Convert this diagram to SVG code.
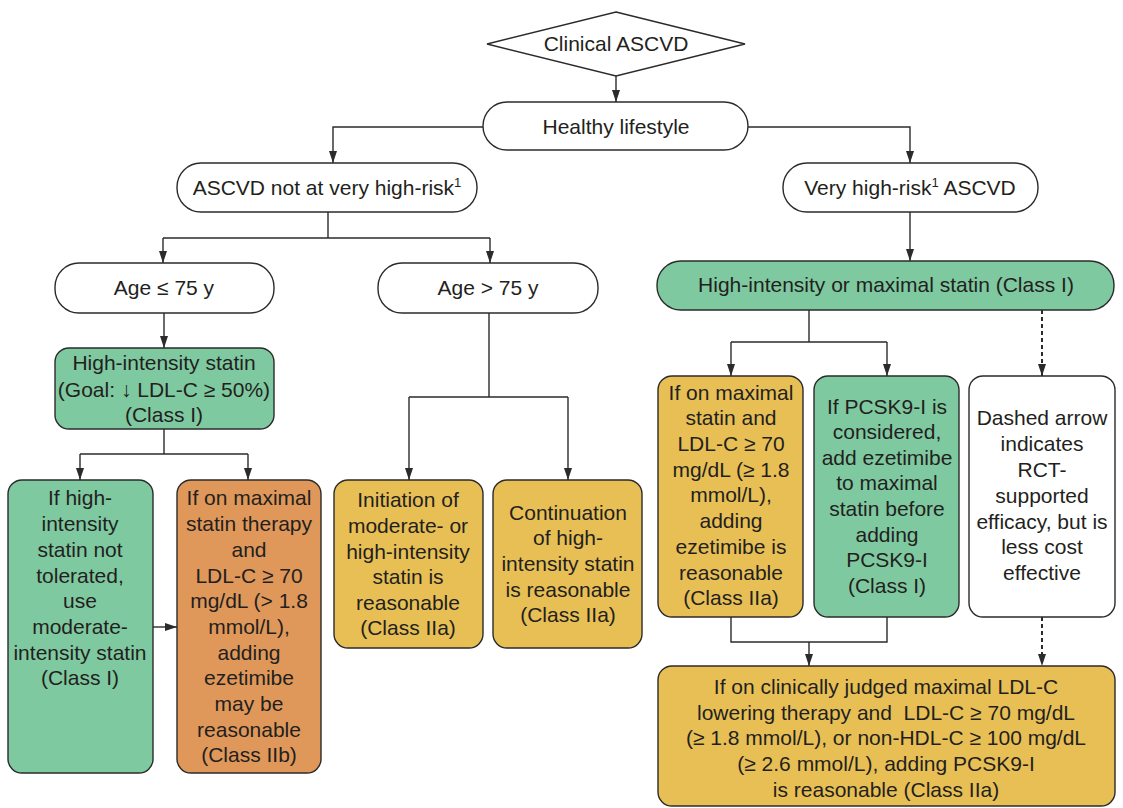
<svg xmlns="http://www.w3.org/2000/svg" width="1123" height="808" viewBox="0 0 1123 808">
<style>
text{font-family:"Liberation Sans",Arial,sans-serif;font-size:21px;fill:#231f20;text-anchor:middle}
.b{stroke:#2b2b2b;stroke-width:1.4}
.w{fill:#fff}.g{fill:#7fc9a0}.o{fill:#e0985a}.y{fill:#e8bf54}
.c{fill:none;stroke:#2b2b2b;stroke-width:1.4}
.d{stroke-dasharray:4 3;stroke-width:2}
.sup{font-size:13px}
</style>
<defs>
<marker id="ah" viewBox="0 0 12 8" refX="12" refY="4" markerWidth="12" markerHeight="8" markerUnits="userSpaceOnUse" orient="auto">
<path d="M0,0 L12,4 L0,8 z" fill="#2b2b2b"/>
</marker>
</defs>
<rect width="1123" height="808" fill="#fff"/>
<g id="connectors">
<path class="c" d="M616,76 V102" marker-end="url(#ah)"/>
<path class="c" d="M483,127 H333 V163" marker-end="url(#ah)"/>
<path class="c" d="M748,127 H910 V163" marker-end="url(#ah)"/>
<path class="c" d="M328,212 V238 M163,238 H490"/>
<path class="c" d="M163,238 V263" marker-end="url(#ah)"/>
<path class="c" d="M490,238 V263" marker-end="url(#ah)"/>
<path class="c" d="M910,212 V261" marker-end="url(#ah)"/>
<path class="c" d="M164,313 V348" marker-end="url(#ah)"/>
<path class="c" d="M164,429 V454 M80,454 H248"/>
<path class="c" d="M80,454 V480" marker-end="url(#ah)"/>
<path class="c" d="M248,454 V480" marker-end="url(#ah)"/>
<path class="c" d="M153,627 H177" marker-end="url(#ah)"/>
<path class="c" d="M489,313 V397 M409,397 H568"/>
<path class="c" d="M409,397 V480" marker-end="url(#ah)"/>
<path class="c" d="M568,397 V480" marker-end="url(#ah)"/>
<path class="c" d="M809,310 V342 M731,342 H887"/>
<path class="c" d="M731,342 V376" marker-end="url(#ah)"/>
<path class="c" d="M887,342 V376" marker-end="url(#ah)"/>
<path class="c d" d="M1042,310 V376" marker-end="url(#ah)"/>
<path class="c" d="M731,617 V642 H887 V617 M809,642 V666" marker-end="url(#ah)"/>
<path class="c d" d="M1042,617 V666" marker-end="url(#ah)"/>
</g>
<g id="n-clinical">
<polygon class="b w" points="616,12 745,44 616,76 487,44"/>
<text x="616" y="51">Clinical ASCVD</text>
</g>
<g id="n-lifestyle">
<rect class="b w" x="483" y="102" width="265" height="48" rx="24"/>
<text x="616" y="134">Healthy lifestyle</text>
</g>
<g id="n-notvhr">
<rect class="b w" x="177" y="163" width="300" height="49" rx="24"/>
<text x="327" y="195">ASCVD not at very high-risk<tspan class="sup" dy="-8">1</tspan></text>
</g>
<g id="n-vhr">
<rect class="b w" x="783" y="163" width="255" height="49" rx="24"/>
<text x="910" y="195">Very high-risk<tspan class="sup" dy="-8">1</tspan><tspan dy="8"> ASCVD</tspan></text>
</g>
<g id="n-age-le">
<rect class="b w" x="55" y="263" width="219" height="50" rx="24"/>
<text x="164" y="295">Age ≤ 75 y</text>
</g>
<g id="n-age-gt">
<rect class="b w" x="378" y="263" width="220" height="50" rx="24"/>
<text x="488" y="295">Age &gt; 75 y</text>
</g>
<g id="n-hi-statin">
<rect class="b g" x="55" y="348" width="219" height="81" rx="14"/>
<text x="164" y="370">High-intensity statin</text>
<text x="164" y="397">(Goal: ↓ LDL-C ≥ 50%)</text>
<text x="164" y="422">(Class I)</text>
</g>
<g id="n-not-tol">
<rect class="b g" x="8" y="480" width="145" height="293" rx="14"/>
<text x="80" y="505">If high-</text>
<text x="80" y="531">intensity</text>
<text x="80" y="557">statin not</text>
<text x="80" y="583">tolerated,</text>
<text x="80" y="608">use</text>
<text x="80" y="634">moderate-</text>
<text x="80" y="660">intensity statin</text>
<text x="80" y="685">(Class I)</text>
</g>
<g id="n-ezet-iib">
<rect class="b o" x="177" y="480" width="144" height="293" rx="14"/>
<text x="249" y="505">If on maximal</text>
<text x="249" y="531">statin therapy</text>
<text x="249" y="557">and</text>
<text x="249" y="583">LDL-C ≥ 70</text>
<text x="249" y="608">mg/dL (&gt; 1.8</text>
<text x="249" y="634">mmol/L),</text>
<text x="249" y="660">adding</text>
<text x="249" y="685">ezetimibe</text>
<text x="249" y="711">may be</text>
<text x="249" y="737">reasonable</text>
<text x="249" y="762">(Class IIb)</text>
</g>
<g id="n-initiation">
<rect class="b y" x="334" y="480" width="149" height="168" rx="14"/>
<text x="408" y="507">Initiation of</text>
<text x="408" y="533">moderate- or</text>
<text x="408" y="559">high-intensity</text>
<text x="408" y="584">statin is</text>
<text x="408" y="610">reasonable</text>
<text x="408" y="635">(Class IIa)</text>
</g>
<g id="n-continuation">
<rect class="b y" x="493" y="480" width="149" height="168" rx="14"/>
<text x="568" y="520">Continuation</text>
<text x="568" y="545">of high-</text>
<text x="568" y="571">intensity statin</text>
<text x="568" y="597">is reasonable</text>
<text x="568" y="622">(Class IIa)</text>
</g>
<g id="n-max-statin">
<rect class="b g" x="657" y="261" width="457" height="49" rx="24"/>
<text x="886" y="292">High-intensity or maximal statin (Class I)</text>
</g>
<g id="n-ezet-iia">
<rect class="b y" x="658" y="376" width="145" height="241" rx="14"/>
<text x="731" y="400">If on maximal</text>
<text x="731" y="425">statin and</text>
<text x="731" y="451">LDL-C ≥ 70</text>
<text x="731" y="477">mg/dL (≥ 1.8</text>
<text x="731" y="502">mmol/L),</text>
<text x="731" y="528">adding</text>
<text x="731" y="554">ezetimibe is</text>
<text x="731" y="580">reasonable</text>
<text x="731" y="605">(Class IIa)</text>
</g>
<g id="n-pcsk9-consider">
<rect class="b g" x="814" y="376" width="145" height="241" rx="14"/>
<text x="887" y="414">If PCSK9-I is</text>
<text x="887" y="439">considered,</text>
<text x="887" y="465">add ezetimibe</text>
<text x="887" y="490">to maximal</text>
<text x="887" y="516">statin before</text>
<text x="887" y="542">adding</text>
<text x="887" y="567">PCSK9-I</text>
<text x="887" y="593">(Class I)</text>
</g>
<g id="n-dashed-note">
<rect class="b w" x="969" y="376" width="146" height="241" rx="14"/>
<text x="1042" y="425">Dashed arrow</text>
<text x="1042" y="451">indicates</text>
<text x="1042" y="477">RCT-</text>
<text x="1042" y="503">supported</text>
<text x="1042" y="529">efficacy, but is</text>
<text x="1042" y="554">less cost</text>
<text x="1042" y="580">effective</text>
</g>
<g id="n-pcsk9">
<rect class="b y" x="658" y="666" width="457" height="140" rx="14"/>
<text x="886" y="694">If on clinically judged maximal LDL-C</text>
<text x="886" y="720" xml:space="preserve">lowering therapy and  LDL-C ≥ 70 mg/dL</text>
<text x="886" y="745">(≥ 1.8 mmol/L), or non-HDL-C ≥ 100 mg/dL</text>
<text x="886" y="771">(≥ 2.6 mmol/L), adding PCSK9-I</text>
<text x="886" y="797">is reasonable (Class IIa)</text>
</g>
</svg>
